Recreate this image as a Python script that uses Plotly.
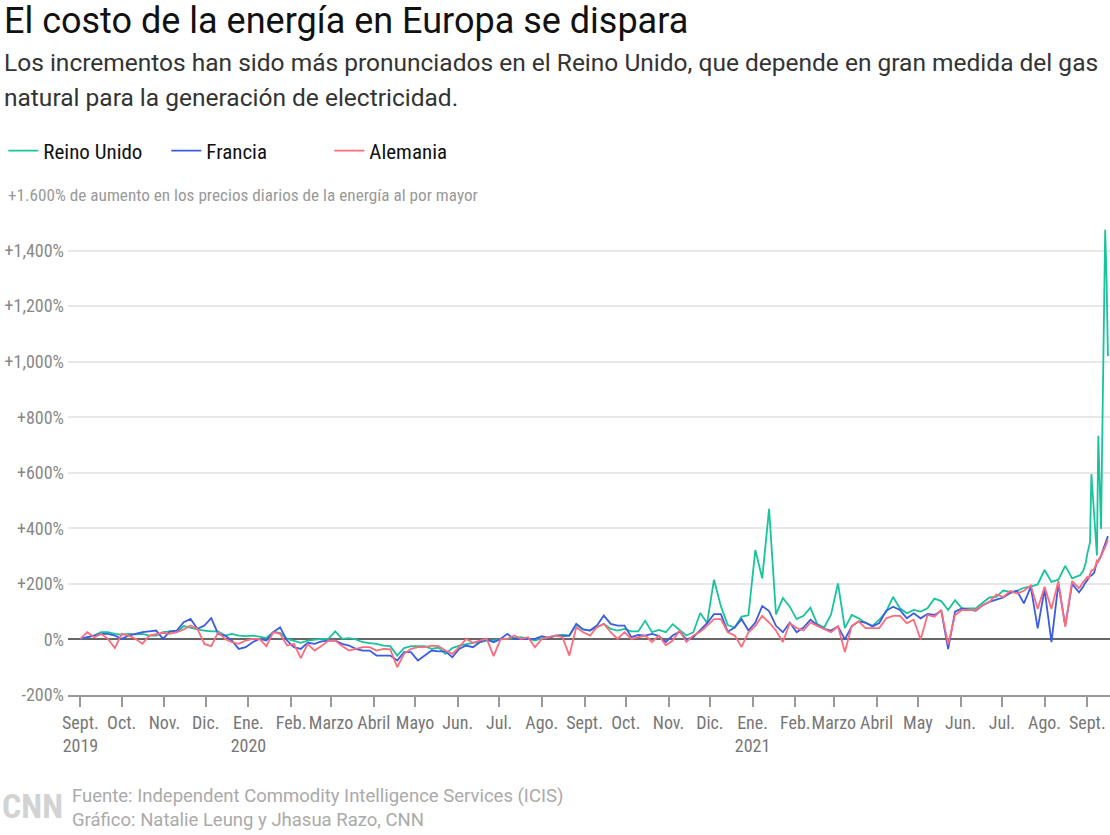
import pandas as pd
import plotly.graph_objects as go

# ---------------- data ----------------
# sampling dates: every 5 days (Sep 1 2019 - Aug 26 2021), then daily to Sep 16 2021
dates = list(pd.date_range("2019-09-01", "2021-08-26", freq="5D")) + \
        list(pd.date_range("2021-08-27", "2021-09-16", freq="D"))

reino_unido = [
    2, 8, 14, 26, 26, 20, 17, 20, 18, 20, 14, 14, 26, 29, 26, 48, 41, 36, 32, 29,
    29, 14, 20, 14, 12, 14, 10, 5, 26, 24, 2, -4, -12, -4, -1, 2, 2, 29, 2, 5,
    0, -10, -13, -16, -22, -24, -58, -31, -24, -25, -24, -34, -29, -52, -31, -22, -16, -12, -10, -4,
    -4, 2, 2, 5, 8, 2, -4, 5, 8, 14, 17, 14, 53, 36, 32, 44, 56, 38, 32, 38,
    29, 29, 67, 26, 34, 26, 55, 34, 14, 26, 95, 59, 215, 120, 52, 43, 82, 87, 322, 220,
    470, 90, 149, 118, 73, 85, 114, 55, 43, 90, 202, 41, 88, 76, 59, 49, 71, 100, 153, 112,
    94, 106, 100, 112, 147, 138, 106, 141, 112, 112, 112, 132, 151, 153, 176, 171, 175, 186, 190, 198,
    250, 207, 215, 265, 220, 230,
    232, 240, 245, 262, 278, 308, 326, 350, 595, 517, 445, 362, 302, 733, 517, 398, 769, 1188, 1475, 1302, 1020,
]

francia = [
    2, 8, 14, 20, 20, 14, 2, 14, 20, 26, 29, 32, 2, 29, 32, 62, 74, 38, 50, 77,
    20, 14, -4, -34, -28, -10, 2, -4, 26, 44, -4, -28, -34, -12, -16, -7, -4, -4, -16, -22,
    -34, -40, -40, -58, -58, -58, -76, -46, -46, -76, -58, -40, -43, -43, -64, -34, -22, -28, -10, 0,
    -10, 2, 20, 2, 2, 2, 2, 12, 5, 14, 12, 14, 56, 36, 32, 50, 86, 56, 50, 50,
    8, 16, 14, 20, 12, -9, 14, 28, 0, 8, 32, 59, 91, 91, 28, 43, 73, 32, 61, 120,
    102, 49, 26, 61, 26, 43, 71, 52, 38, 32, 47, 0, 47, 65, 61, 47, 59, 103, 118, 106,
    76, 94, 76, 92, 88, 103, -35, 100, 112, 108, 103, 123, 135, 143, 151, 167, 175, 130, 189, 40,
    180, -10, 200, 50, 200, 170,
    176, 180, 190, 200, 206, 210, 220, 230, 230, 235, 240, 260, 278, 285, 290, 302, 315, 330, 340, 355, 372,
]

alemania = [
    2, 26, 8, 20, 2, -31, 20, 14, 2, -16, 14, 20, 24, 20, 26, 36, 50, 38, -16, -24,
    26, 2, -10, -16, -4, 2, 2, -24, 26, 20, -22, -16, -67, -16, -40, -24, -4, -4, -24, -40,
    -34, -28, -28, -40, -34, -36, -100, -52, -34, -28, -28, -22, -24, -40, -52, -28, 2, -12, -4, 2,
    -60, 0, 2, 14, 2, 8, -28, 2, 8, 14, 8, -58, 44, 26, 14, 44, 56, 26, 2, 26,
    2, 8, 14, -9, 14, -21, -4, 32, -9, 14, 28, 49, 73, 73, 26, 14, -27, 26, 49, 85,
    61, 32, -9, 59, 41, 32, 61, 49, 38, 26, 47, -45, 49, 65, 41, 40, 41, 76, 85, 85,
    59, 71, 0, 88, 82, 106, -18, 88, 106, 106, 106, 123, 135, 162, 153, 174, 165, 175, 195, 110,
    190, 110, 210, 45, 210, 185,
    190, 200, 205, 210, 218, 225, 220, 235, 248, 250, 254, 265, 284, 280, 295, 300, 310, 320, 335, 345, 360,
]

series_names = ["Reino Unido", "Francia", "Alemania"]
series_colors = ["#17c49b", "#3b5ce6", "#ff6b7a"]

month_ticks = list(pd.date_range("2019-09-01", "2021-09-01", freq="MS"))
month_labels = [
    "Sept.<br>2019", "Oct.", "Nov.", "Dic.", "Ene.<br>2020", "Feb.", "Marzo", "Abril", "Mayo",
    "Jun.", "Jul.", "Ago.", "Sept.", "Oct.", "Nov.", "Dic.", "Ene.<br>2021", "Feb.", "Marzo",
    "Abril", "May", "Jun.", "Jul.", "Ago.", "Sept.",
]
y_ticks = [-200, 0, 200, 400, 600, 800, 1000, 1200, 1400, 1600]
y_labels = ["-200%", "0%", "+200%", "+400%", "+600%", "+800%", "+1,000%", "+1,200%", "+1,400%", ""]

# ---------------- layout helpers ----------------
W_FIG, H_FIG = 1110, 835
L, R, T, B = 68, 0, 195, 140
PW, PH = W_FIG - L - R, H_FIG - T - B


def pxx(px):
    return (px - L) / PW


def pxy(py):
    return (H_FIG - B - py) / PH


COND = "Roboto Condensed, Roboto, sans-serif"
REG = "Roboto, Open Sans, sans-serif"

fig = go.Figure()
for name, vals, col in zip(series_names, [reino_unido, francia, alemania], series_colors):
    fig.add_trace(go.Scatter(
        x=dates, y=vals, mode="lines", name=name,
        line=dict(color=col, width=1.8),
        hoverinfo="x+y+name",
    ))

fig.update_layout(
    width=W_FIG, height=H_FIG,
    margin=dict(l=L, r=R, t=T, b=B, autoexpand=False),
    paper_bgcolor="white", plot_bgcolor="white",
    showlegend=True,
    legend=dict(
        orientation="h", xref="container", yref="container",
        x=0.003, y=1 - 151 / H_FIG, xanchor="left", yanchor="middle",
        font=dict(family=COND, size=21, color="#111"),
        itemwidth=30, traceorder="normal",
        entrywidth=118, entrywidthmode="pixels",
    ),
    xaxis=dict(
        type="date", automargin=False,
        range=["2019-08-23", "2021-09-17 12:00"],
        tickvals=month_ticks, ticktext=month_labels, tickangle=0,
        ticks="outside", ticklen=10, tickwidth=1.5, tickcolor="#999",
        showline=True, linecolor="#999", linewidth=2,
        showgrid=False, zeroline=False,
        tickfont=dict(family=COND, size=18, color="#777"),
    ),
    yaxis=dict(
        range=[-200, 1600], automargin=False,
        tickvals=y_ticks, ticktext=y_labels,
        showgrid=True, gridcolor="#e8e8e8", gridwidth=1.5,
        zeroline=True, zerolinecolor="#666", zerolinewidth=1.5,
        ticks="", ticklabelstandoff=3,
        tickfont=dict(family=COND, size=18, color="#888"),
    ),
)

annotations = [
    dict(text="El costo de la energía en Europa se dispara", x=pxx(2), y=pxy(21),
         font=dict(family=REG, size=36, color="#111")),
    dict(text="Los incrementos han sido más pronunciados en el Reino Unido, que depende en gran medida del gas",
         x=pxx(2), y=pxy(62), font=dict(family=REG, size=24.5, color="#333")),
    dict(text="natural para la generación de electricidad.",
         x=pxx(2), y=pxy(97), font=dict(family=REG, size=24.5, color="#333")),
    dict(text="+1.600% de aumento en los precios diarios de la energía al por mayor",
         x=pxx(4), y=pxy(195), font=dict(family=COND, size=17.2, color="#999"),
         bgcolor="white", borderpad=3),
    dict(text="<b>CNN</b>", x=pxx(0), y=pxy(806),
         font=dict(family=COND, size=34, color="#d3d3d3")),
    dict(text="Fuente: Independent Commodity Intelligence Services (ICIS)",
         x=pxx(70), y=pxy(796), font=dict(family=REG, size=18.5, color="#aaa")),
    dict(text="Gráfico: Natalie Leung y Jhasua Razo, CNN",
         x=pxx(70), y=pxy(820), font=dict(family=REG, size=18.5, color="#aaa")),
]
for a in annotations:
    fig.add_annotation(xref="paper", yref="paper", xanchor="left", yanchor="middle",
                       showarrow=False, **a)

fig.write_html("out.html", config={"displayModeBar": False},
               post_script="document.body.style.margin='0';")
